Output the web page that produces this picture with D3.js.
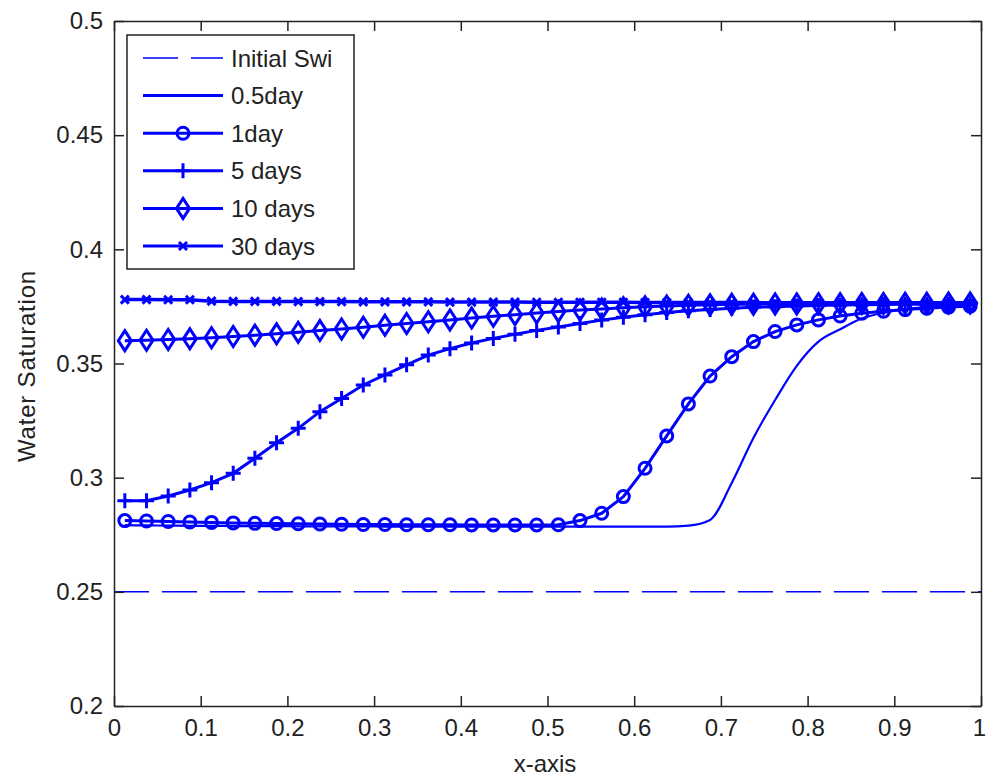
<!DOCTYPE html>
<html>
<head>
<meta charset="utf-8">
<script src="https://cdn.jsdelivr.net/npm/d3@7"></script>
<style>
  body { margin: 0; background: #fff; }
  text { font-family: "Liberation Sans", Arial, sans-serif; fill: #222; }
</style>
</head>
<body>
<div id="chart"></div>
<script>
// x positions of the grid cells
var xs = [0.0125, 0.0375, 0.0625, 0.0875, 0.1125, 0.1375, 0.1625, 0.1875, 0.2125, 0.2375,
          0.2625, 0.2875, 0.3125, 0.3375, 0.3625, 0.3875, 0.4125, 0.4375, 0.4625, 0.4875,
          0.5125, 0.5375, 0.5625, 0.5875, 0.6125, 0.6375, 0.6625, 0.6875, 0.7125, 0.7375,
          0.7625, 0.7875, 0.8125, 0.8375, 0.8625, 0.8875, 0.9125, 0.9375, 0.9625, 0.9875];

// initial water saturation (flat)
var initX = [0, 1];
var initSw = [0.25, 0.25];

var sw05 = [0.2792, 0.2791, 0.2790, 0.2789, 0.2789, 0.2788, 0.2788, 0.2788, 0.2787, 0.2787,
            0.2787, 0.2787, 0.2786, 0.2786, 0.2786, 0.2786, 0.2786, 0.2786, 0.2786, 0.2786,
            0.2786, 0.2786, 0.2786, 0.2786, 0.2786, 0.2786, 0.2790, 0.2815, 0.2977, 0.3174,
            0.3340, 0.3490, 0.3596, 0.3650, 0.3697, 0.3722, 0.3738, 0.3748, 0.3755, 0.3760];

var sw1 = [0.2812, 0.2810, 0.2808, 0.2806, 0.2804, 0.2802, 0.2800, 0.2799, 0.2798, 0.2797,
           0.2796, 0.2795, 0.2795, 0.2794, 0.2794, 0.2794, 0.2793, 0.2793, 0.2793, 0.2793,
           0.2794, 0.2812, 0.2844, 0.2917, 0.3041, 0.3183, 0.3323, 0.3445, 0.3530, 0.3596,
           0.3640, 0.3669, 0.3691, 0.3708, 0.3720, 0.3729, 0.3736, 0.3742, 0.3747, 0.3751];

var sw5 = [0.2899, 0.2899, 0.2920, 0.2946, 0.2978, 0.3019, 0.3085, 0.3153, 0.3216, 0.3289,
           0.3347, 0.3406, 0.3450, 0.3494, 0.3537, 0.3565, 0.3590, 0.3610, 0.3628, 0.3645,
           0.3660, 0.3675, 0.3690, 0.3703, 0.3714, 0.3723, 0.3731, 0.3737, 0.3742, 0.3746,
           0.3749, 0.3752, 0.3754, 0.3756, 0.3757, 0.3758, 0.3759, 0.3760, 0.3761, 0.3762];

var sw10 = [0.3600, 0.3602, 0.3605, 0.3608, 0.3613, 0.3618, 0.3624, 0.3630, 0.3637, 0.3644,
            0.3651, 0.3659, 0.3667, 0.3675, 0.3683, 0.3691, 0.3699, 0.3707, 0.3714, 0.3721,
            0.3728, 0.3734, 0.3739, 0.3744, 0.3748, 0.3752, 0.3755, 0.3757, 0.3759, 0.3760,
            0.3761, 0.3761, 0.3762, 0.3762, 0.3763, 0.3763, 0.3764, 0.3764, 0.3765, 0.3765];

var sw30 = [0.3780, 0.3780, 0.3779, 0.3779, 0.3773, 0.3772, 0.3772, 0.3772, 0.3771, 0.3771,
            0.3771, 0.3770, 0.3770, 0.3770, 0.3770, 0.3769, 0.3769, 0.3769, 0.3769, 0.3768,
            0.3768, 0.3768, 0.3768, 0.3768, 0.3767, 0.3767, 0.3767, 0.3767, 0.3767, 0.3767,
            0.3766, 0.3766, 0.3766, 0.3766, 0.3766, 0.3766, 0.3766, 0.3766, 0.3766, 0.3766];

var xTicks = [0, 0.1, 0.2, 0.3, 0.4, 0.5, 0.6, 0.7, 0.8, 0.9, 1];
var yTicks = [0.2, 0.25, 0.3, 0.35, 0.4, 0.45, 0.5];

var series = [
  { name: 'Initial Swi', x: initX, y: initSw, marker: null, width: 1.5, dash: '35,13' },
  { name: '0.5day', x: xs, y: sw05, marker: null, width: 2.2, dash: null, smooth: true },
  { name: '1day', x: xs, y: sw1, marker: 'circle', width: 3, dash: null },
  { name: '5 days', x: xs, y: sw5, marker: 'plus', width: 3, dash: null },
  { name: '10 days', x: xs, y: sw10, marker: 'diamond', width: 3, dash: null },
  { name: '30 days', x: xs, y: sw30, marker: 'cross', width: 3.5, dash: null }
];

var W = 986, H = 776;
var pLeft = 114, pTop = 21, pRight = 981, pBottom = 706;
var blue = '#0000ff';

var x = d3.scaleLinear().domain([0, 1]).range([pLeft, pRight]);
var y = d3.scaleLinear().domain([0.2, 0.5]).range([pBottom, pTop]);

var svg = d3.select('#chart')
  .append('svg')
  .attr('width', W)
  .attr('height', H);

// marker drawing
function drawMarker(g, type, cx, cy) {
  var s = 3;
  if (type === 'circle') {
    g.append('circle').attr('cx', cx).attr('cy', cy).attr('r', 6)
      .attr('fill', 'none').attr('stroke', blue).attr('stroke-width', s);
  } else if (type === 'plus') {
    g.append('path').attr('d', 'M' + (cx - 7.5) + ',' + cy + 'H' + (cx + 7.5) + 'M' + cx + ',' + (cy - 7.5) + 'V' + (cy + 7.5))
      .attr('stroke', blue).attr('stroke-width', s).attr('fill', 'none');
  } else if (type === 'diamond') {
    g.append('path').attr('d', 'M' + cx + ',' + (cy - 10) + 'L' + (cx + 6.5) + ',' + cy + 'L' + cx + ',' + (cy + 10) + 'L' + (cx - 6.5) + ',' + cy + 'Z')
      .attr('stroke', blue).attr('stroke-width', s).attr('fill', 'none');
  } else if (type === 'cross') {
    g.append('path').attr('d', 'M' + (cx - 4) + ',' + (cy - 4) + 'L' + (cx + 4) + ',' + (cy + 4) + 'M' + (cx - 4) + ',' + (cy + 4) + 'L' + (cx + 4) + ',' + (cy - 4))
      .attr('stroke', blue).attr('stroke-width', s).attr('fill', 'none');
  }
}

// lines and markers
series.forEach(function(s) {
  var pts = s.x.map(function(v, i) { return [v, s.y[i]]; });
  var line = d3.line()
    .x(function(d) { return x(d[0]); })
    .y(function(d) { return y(d[1]); })
    .curve(s.smooth ? d3.curveMonotoneX : d3.curveLinear);
  svg.append('path')
    .datum(pts)
    .attr('d', line)
    .attr('fill', 'none')
    .attr('stroke', blue)
    .attr('stroke-width', s.width)
    .attr('stroke-dasharray', s.dash);
  if (s.marker) {
    var g = svg.append('g');
    pts.forEach(function(d) { drawMarker(g, s.marker, x(d[0]), y(d[1])); });
  }
});

// axes, ticks pointing inwards
var fmt = function(d) { return String(d); };
var gx = svg.append('g').attr('transform', 'translate(0,' + pBottom + ')')
  .call(d3.axisBottom(x).tickValues(xTicks).tickFormat(fmt).tickSizeInner(-10).tickSizeOuter(0).tickPadding(13));
var gy = svg.append('g').attr('transform', 'translate(' + pLeft + ',0)')
  .call(d3.axisLeft(y).tickValues(yTicks).tickFormat(fmt).tickSizeInner(-10).tickSizeOuter(0).tickPadding(11));
var gt = svg.append('g').attr('transform', 'translate(0,' + pTop + ')')
  .call(d3.axisTop(x).tickValues(xTicks).tickFormat('').tickSizeInner(-10).tickSizeOuter(0));
var gr = svg.append('g').attr('transform', 'translate(' + pRight + ',0)')
  .call(d3.axisRight(y).tickValues(yTicks).tickFormat('').tickSizeInner(-10).tickSizeOuter(0));

[gx, gy, gt, gr].forEach(function(g) {
  g.selectAll('path, line').attr('stroke', '#222').attr('stroke-width', 1.5);
  g.selectAll('text').attr('font-size', 24).attr('fill', '#222')
    .style('font-family', '"Liberation Sans", Arial, sans-serif');
});
// keep the last x label inside the page
gx.selectAll('.tick text').filter(function(d) { return d === 1; }).attr('dx', -2);

// axis titles
svg.append('text')
  .attr('x', 545).attr('y', 772)
  .attr('text-anchor', 'middle')
  .attr('font-size', 24)
  .text('x-axis');

svg.append('text')
  .attr('transform', 'translate(35,366) rotate(-90)')
  .attr('text-anchor', 'middle')
  .attr('font-size', 24)
  .attr('letter-spacing', 0.8)
  .text('Water Saturation');

// legend
var lg = svg.append('g');
lg.append('rect')
  .attr('x', 127).attr('y', 35)
  .attr('width', 227).attr('height', 234)
  .attr('fill', '#fff').attr('stroke', '#222').attr('stroke-width', 1.5);

series.forEach(function(s, i) {
  var cy = 58 + i * 37.6;
  lg.append('line')
    .attr('x1', 143).attr('x2', 223)
    .attr('y1', cy).attr('y2', cy)
    .attr('stroke', blue)
    .attr('stroke-width', s.dash ? 1.5 : 3)
    .attr('stroke-dasharray', s.dash);
  if (s.marker) drawMarker(lg, s.marker, 183, cy);
  lg.append('text')
    .attr('x', 231).attr('y', cy + 8.5)
    .attr('font-size', 24)
    .text(s.name);
});
</script>
</body>
</html>
